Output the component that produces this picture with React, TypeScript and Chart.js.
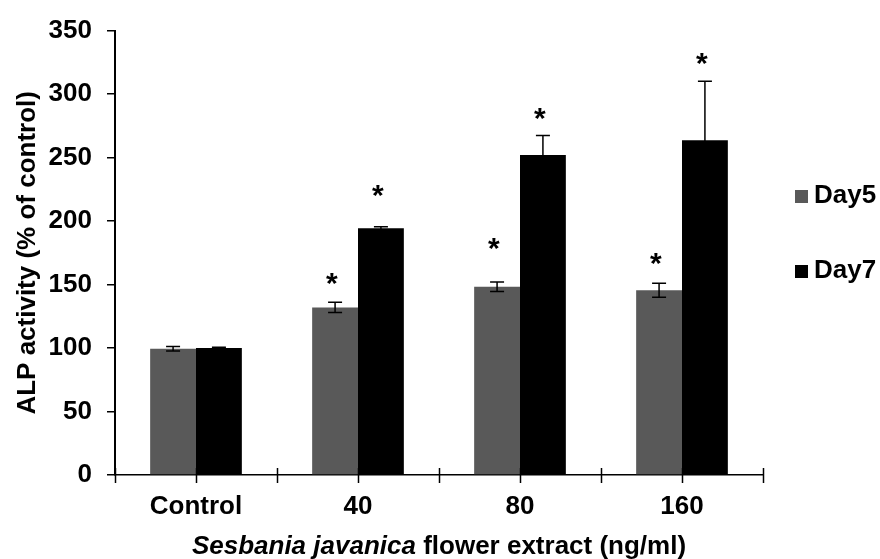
import React, { useEffect, useRef } from "react";
import { Chart, registerables } from "chart.js";

Chart.register(...registerables);

// ---- data ----
const categories = ["Control", "40", "80", "160"];
const seriesNames = ["Day5", "Day7"];
const day5Values = [99.5, 132, 148.3, 145.5];
const day5Errors = [1.8, 4, 3.7, 5.5];
const day7Values = [100, 194.3, 252, 263.7];
const day7Errors = [0.6, 1.2, 15.3, 46.5];
// y-level (in axis units) where the significance asterisk sits
const day5StarLevels = [null, 154.2, 182, 170.4];
const day7StarLevels = [null, 223.6, 284.7, 327.7];
const yMin = 0;
const yMax = 350;
const yStep = 50;
const yTitle = "ALP activity (% of control)";
const xTitleItalic = "Sesbania javanica";
const xTitleRest = " flower extract (ng/ml)";
const starSymbol = "*";

// ---- styles ----
const FONT = "'Liberation Sans', Arial, Helvetica, sans-serif";
const seriesColors = ["#595959", "#000000"];

const errorsBySeries = [day5Errors, day7Errors];
const starsBySeries = [day5StarLevels, day7StarLevels];

const decorPlugin = {
  id: "decor",
  afterDatasetsDraw(chart: any) {
    const ctx = chart.ctx;
    const yScale = chart.scales.y;
    ctx.save();
    // error bars
    ctx.strokeStyle = "#000";
    ctx.lineWidth = 1.5;
    chart.data.datasets.forEach((ds: any, di: number) => {
      const meta = chart.getDatasetMeta(di);
      meta.data.forEach((bar: any, i: number) => {
        const v = ds.data[i];
        const e = errorsBySeries[di][i];
        const x = bar.x;
        const yHi = yScale.getPixelForValue(v + e);
        const yLo = yScale.getPixelForValue(v - e);
        ctx.beginPath();
        ctx.moveTo(x, yHi);
        ctx.lineTo(x, yLo);
        ctx.moveTo(x - 7, yHi);
        ctx.lineTo(x + 7, yHi);
        ctx.moveTo(x - 7, yLo);
        ctx.lineTo(x + 7, yLo);
        ctx.stroke();
      });
    });
    // asterisks
    ctx.fillStyle = "#000";
    ctx.font = `bold 30px ${FONT}`;
    ctx.textAlign = "left";
    ctx.textBaseline = "alphabetic";
    const m = ctx.measureText(starSymbol);
    const inkCx = (m.actualBoundingBoxRight - m.actualBoundingBoxLeft) / 2;
    const inkCy = (m.actualBoundingBoxDescent - m.actualBoundingBoxAscent) / 2;
    chart.data.datasets.forEach((ds: any, di: number) => {
      const meta = chart.getDatasetMeta(di);
      meta.data.forEach((bar: any, i: number) => {
        const lvl = starsBySeries[di][i];
        if (lvl == null) return;
        const cx = bar.x - 3;
        const cy = yScale.getPixelForValue(lvl);
        ctx.fillText(starSymbol, cx - inkCx, cy - inkCy);
      });
    });
    ctx.restore();
  },
  afterDraw(chart: any) {
    const ctx = chart.ctx;
    const area = chart.chartArea;
    ctx.save();
    // x-axis tick marks (category boundaries and centers, crossing the axis)
    ctx.strokeStyle = "#000";
    ctx.lineWidth = 1.5;
    const n = categories.length * 2;
    const w = area.right - area.left;
    for (let i = 0; i <= n; i++) {
      const x = Math.round(area.left + (i * w) / n) + 0.5;
      ctx.beginPath();
      ctx.moveTo(x, area.bottom - 7);
      ctx.lineTo(x, area.bottom + 8);
      ctx.stroke();
    }
    // y title
    ctx.fillStyle = "#000";
    ctx.save();
    ctx.translate(35, (area.top + area.bottom) / 2);
    ctx.rotate(-Math.PI / 2);
    ctx.font = `bold 26px ${FONT}`;
    ctx.textAlign = "center";
    ctx.textBaseline = "alphabetic";
    ctx.fillText(yTitle, 0, 0);
    ctx.restore();
    // x title (mixed italic / normal)
    const italicFont = `italic bold 26px ${FONT}`;
    const normalFont = `bold 26px ${FONT}`;
    ctx.font = italicFont;
    const w1 = ctx.measureText(xTitleItalic).width;
    ctx.font = normalFont;
    const w2 = ctx.measureText(xTitleRest).width;
    const cx = (area.left + area.right) / 2;
    let sx = cx - (w1 + w2) / 2;
    const by = 554;
    ctx.textAlign = "left";
    ctx.textBaseline = "alphabetic";
    ctx.font = italicFont;
    ctx.fillText(xTitleItalic, sx, by);
    ctx.font = normalFont;
    ctx.fillText(xTitleRest, sx + w1, by);
    // legend
    const legendX = 795;
    const legendBase = [203, 278];
    seriesNames.forEach((name, i) => {
      const base = legendBase[i];
      ctx.fillStyle = seriesColors[i];
      ctx.fillRect(legendX, base - 13, 13, 13);
      ctx.fillStyle = "#000";
      ctx.font = normalFont;
      ctx.fillText(name, legendX + 19, base);
    });
    ctx.restore();
  },
};

export default function App() {
  const canvasRef = useRef<HTMLCanvasElement | null>(null);

  useEffect(() => {
    if (!canvasRef.current) return;
    const chart = new Chart(canvasRef.current, {
      type: "bar",
      data: {
        labels: categories,
        datasets: [
          {
            label: seriesNames[0],
            data: day5Values,
            backgroundColor: seriesColors[0],
            borderWidth: 0,
            categoryPercentage: 0.566,
            barPercentage: 1.0,
          },
          {
            label: seriesNames[1],
            data: day7Values,
            backgroundColor: seriesColors[1],
            borderWidth: 0,
            categoryPercentage: 0.566,
            barPercentage: 1.0,
          },
        ],
      },
      options: {
        responsive: false,
        animation: false,
        layout: { padding: { left: 0, right: 117, top: 21, bottom: 0 } },
        plugins: {
          legend: { display: false },
          tooltip: { enabled: false },
          title: { display: false },
        },
        scales: {
          x: {
            grid: { display: false, drawTicks: false },
            border: { display: true, color: "#000", width: 1.5 },
            ticks: {
              color: "#000",
              font: { family: FONT, size: 26, weight: "bold" },
              padding: 16,
              maxRotation: 0,
              autoSkip: false,
            },
            afterFit: (s: any) => {
              s.height = 84;
            },
          },
          y: {
            min: yMin,
            max: yMax,
            ticks: {
              stepSize: yStep,
              color: "#000",
              font: { family: FONT, size: 26, weight: "bold" },
              padding: 15,
            },
            grid: {
              drawOnChartArea: false,
              drawTicks: true,
              tickLength: 8,
              color: "#000",
              lineWidth: 1.5,
            },
            border: { display: true, color: "#000", width: 2 },
            afterFit: (s: any) => {
              s.width = 115;
            },
          },
        },
      },
      plugins: [decorPlugin],
    } as any);
    return () => chart.destroy();
  }, []);

  return (
    <div style={{ position: "fixed", left: 0, top: 0, width: 880, height: 559, background: "#fff" }}>
      <canvas ref={canvasRef} width={880} height={559} style={{ display: "block" }} />
    </div>
  );
}
